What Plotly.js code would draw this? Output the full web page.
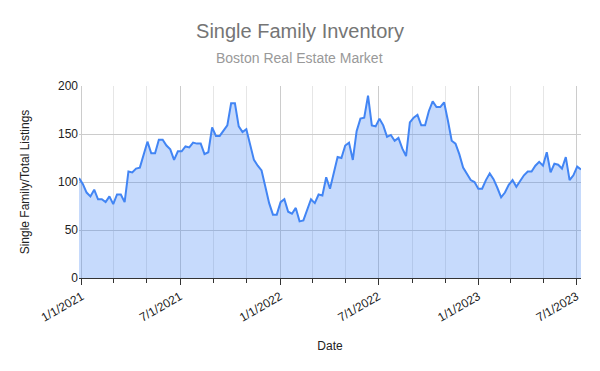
<!DOCTYPE html>
<html>
<head>
<meta charset="utf-8">
<script src="https://cdn.plot.ly/plotly-3.0.1.min.js"></script>
<style>html,body{margin:0;padding:0;background:#fff;}#chart{width:600px;height:371px;}</style>
</head>
<body>
<div id="chart"></div>
<script>
// Weekly observations starting on this date
const startDate = "2020-12-27";
const inventory = [
  104, 98, 89, 85, 92, 82, 82, 79, 85, 77, 87, 87, 79, 111, 110, 114, 115, 128, 142, 130,
  130, 144, 144, 138, 134, 123, 132, 132, 137, 136, 141, 140, 140, 129, 131, 157, 148, 148, 153, 159,
  182, 182, 158, 152, 155,
  140, 123, 117, 112, 95, 78, 66, 66, 79, 82, 69, 67, 73, 59, 60, 71, 82, 78, 87, 86,
  105, 93, 110, 126, 125, 138, 141, 123, 153, 166, 167, 190, 159, 158, 166, 159, 147, 149, 143, 146,
  135, 127, 162, 167, 170,
  159, 159, 174, 184, 178, 178, 183, 164, 143, 140, 129, 115, 109, 102, 100, 93, 93, 102, 109, 103,
  94, 84, 89, 97, 102, 95, 101, 107, 111, 111, 117, 121, 117, 131, 110, 119, 118, 114, 126, 102,
  107, 116, 113
];
const majorTicks = ["2021-01-01", "2021-07-01", "2022-01-01", "2022-07-01", "2023-01-01", "2023-07-01"];
const majorTickLabels = ["1/1/2021", "7/1/2021", "1/1/2022", "7/1/2022", "1/1/2023", "7/1/2023"];
const yTicks = [0, 50, 100, 150, 200];

const dates = [];
const d0 = new Date(startDate + "T00:00:00Z");
for (let i = 0; i < inventory.length; i++) {
  const d = new Date(d0.getTime() + i * 7 * 86400000);
  dates.push(d.toISOString().slice(0, 10));
}

const trace = {
  x: dates,
  y: inventory,
  type: "scatter",
  mode: "lines",
  fill: "tozeroy",
  fillcolor: "rgba(66,133,244,0.3)",
  line: {color: "#4285F4", width: 2},
  hoverinfo: "x+y"
};

const font = "Liberation Sans, Arial, sans-serif";
const layout = {
  width: 600, height: 371,
  margin: {l: 79, r: 19, t: 86, b: 93, pad: 0},
  paper_bgcolor: "#fff", plot_bgcolor: "#fff",
  font: {family: font, size: 12, color: "#222"},
  showlegend: false,
  title: {
    text: "Single Family Inventory",
    font: {family: font, size: 20, color: "#757575"},
    x: 0.5, xanchor: "center", y: 0.9164, yanchor: "middle"
  },
  annotations: [{
    text: "Boston Real Estate Market",
    xref: "paper", yref: "paper", x: 0.4402, y: 1.1458,
    xanchor: "center", yanchor: "middle", showarrow: false,
    font: {family: font, size: 14, color: "#999999"}
  }],
  xaxis: {
    type: "date",
    range: [dates[0], dates[dates.length - 1]],
    tickmode: "array",
    tickvals: majorTicks,
    ticktext: majorTickLabels,
    tickangle: -30,
    ticks: "outside", ticklen: 6, tickcolor: "#333", tickwidth: 1,
    showgrid: true, gridcolor: "#cccccc", gridwidth: 1,
    minor: {dtick: "M2", tick0: "2021-01-01", ticks: "outside", ticklen: 4, tickcolor: "#333", showgrid: true, gridcolor: "#e6e6e6"},
    showline: true, linecolor: "#333", linewidth: 1,
    zeroline: false,
    tickfont: {family: font, size: 12, color: "#222"},
    title: {text: "Date", font: {family: font, size: 12, color: "#222"}, standoff: 18}
  },
  yaxis: {
    range: [0, 200],
    tickmode: "array",
    tickvals: yTicks,
    ticks: "",
    showgrid: true, gridcolor: "#cccccc", gridwidth: 1,
    zeroline: false, showline: false,
    tickfont: {family: font, size: 12, color: "#222"},
    title: {text: "Single Family/Total Listings", font: {family: font, size: 12, color: "#222"}, standoff: 25}
  }
};

Plotly.newPlot("chart", [trace], layout, {displayModeBar: false, staticPlot: true});
</script>
</body>
</html>
